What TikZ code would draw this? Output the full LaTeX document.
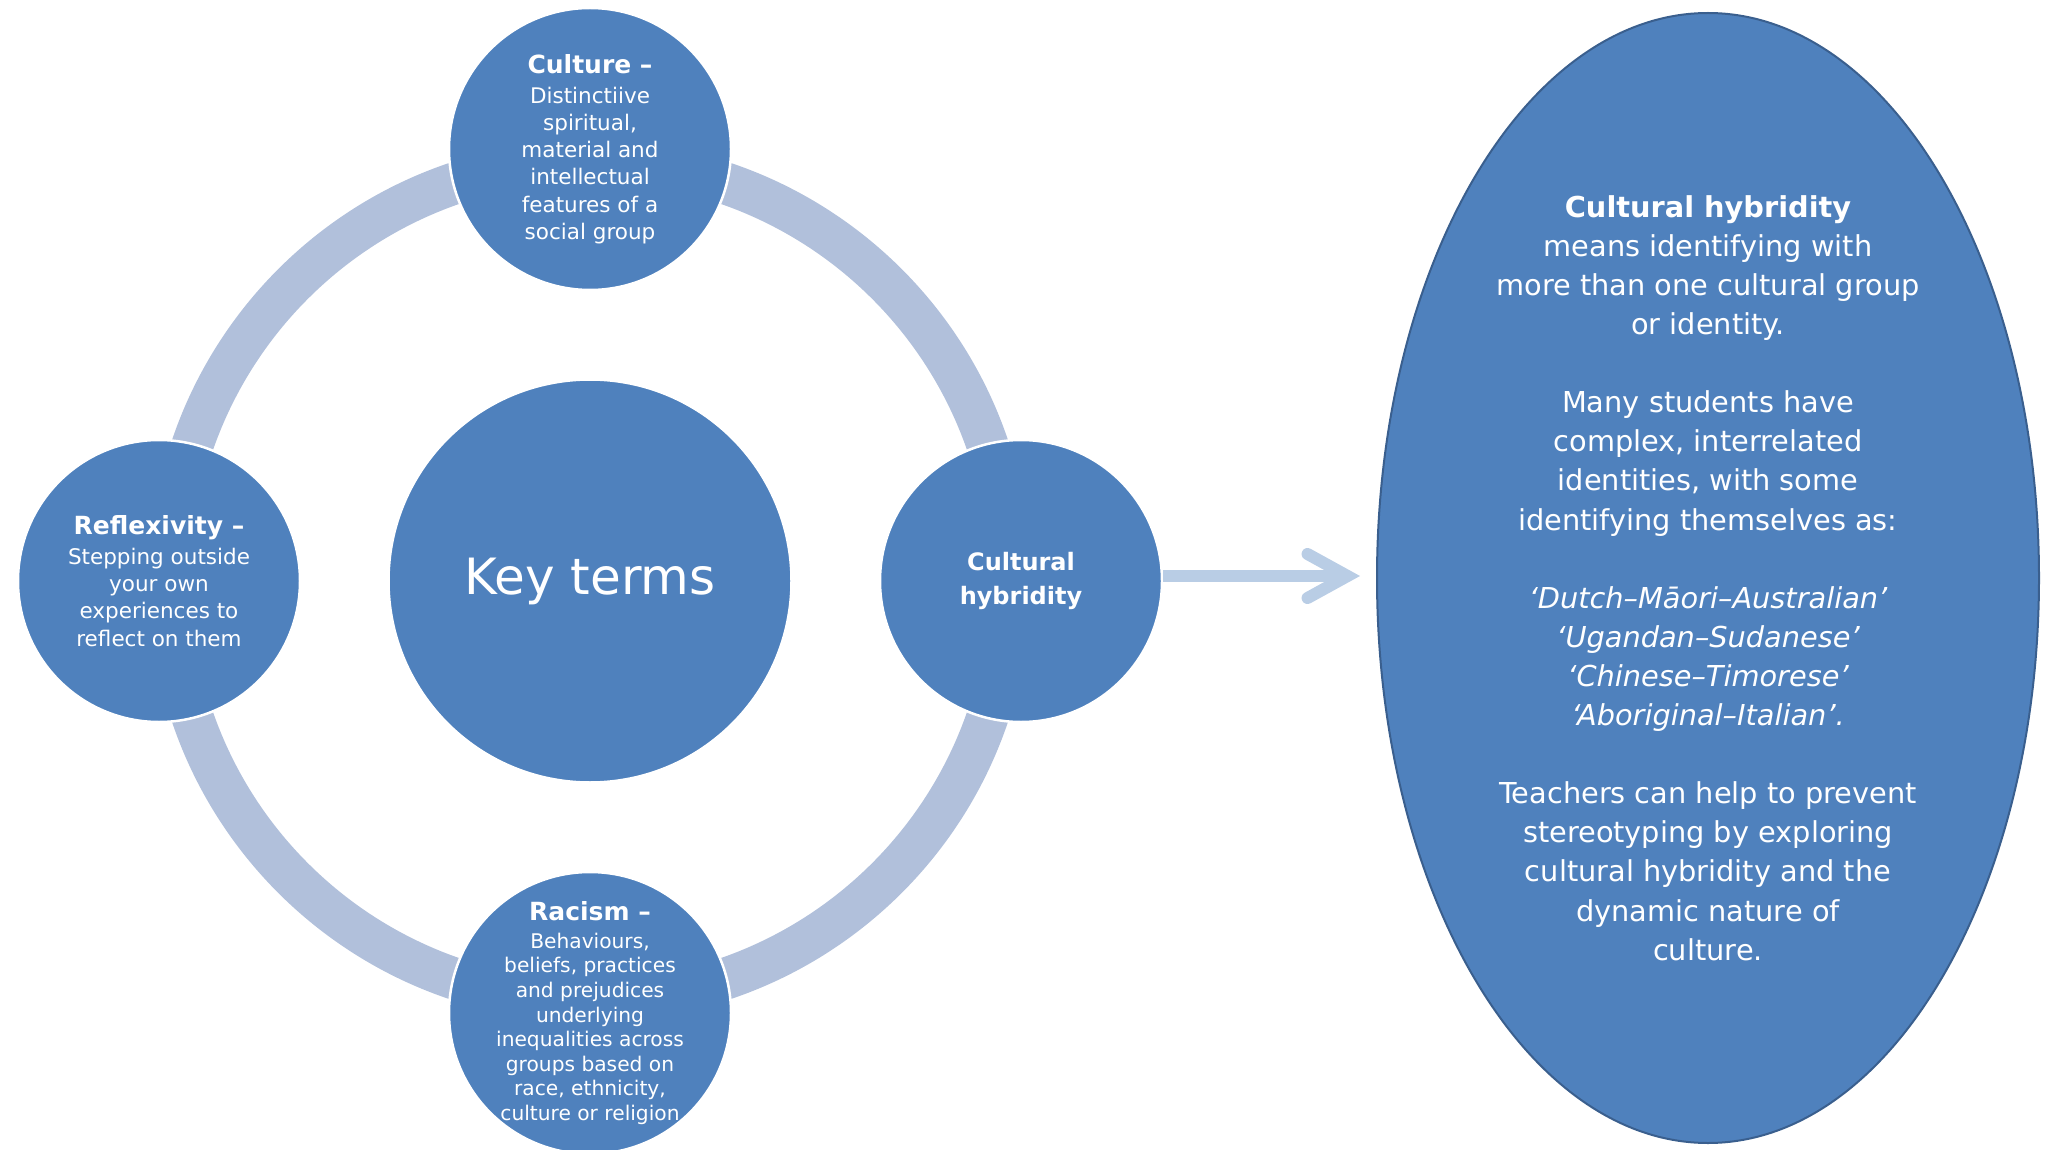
\documentclass[tikz,border=0pt]{standalone}
\usepackage{fontspec}
\setmainfont{DejaVu Sans}
\usetikzlibrary{shapes.geometric,arrows.meta}

\definecolor{termblue}{HTML}{4F81BD}
\definecolor{ringblue}{HTML}{B1C0DB}
\definecolor{arrowblue}{HTML}{B9CDE5}
\definecolor{edgeblue}{HTML}{3A5F8E}

\newcommand{\bodyfont}{\fontsize{21.5}{27.3}\selectfont}
\newcommand{\headfont}{\fontsize{25}{30}\selectfont\bfseries}

\begin{document}
\begin{tikzpicture}[x=1pt,y=-1pt,
    term/.style={circle, minimum size=282pt, inner sep=0pt, fill=termblue,
      draw=white, line width=2.5pt, text=white, align=center, font=\bodyfont},
    ring/.style={draw=ringblue, line width=42pt}]
  \useasboundingbox (0,0) rectangle (2046,1150);
  \coordinate (o) at (590,581);
  \draw[ring] (o) circle (420pt);
  \node[name=key, term, minimum size=403pt, font=\fontsize{50}{60}\selectfont] at (o) {Key terms};
  \node[name=cult, term] at (590,149) {{\headfont Culture –}\\[2.7pt]
    Distinctiive\\ spiritual,\\ material and\\ intellectual\\ features of a\\ social group};
  \node[name=refl, term] at (159,581) {{\headfont Reflexivity –}\\[2.7pt]
    Stepping outside\\ your own\\ experiences to\\ reflect on them};
  \node[name=hyb, term, font=\fontsize{24}{34}\selectfont\bfseries] at (1021,581) {Cultural\\ hybridity};
  \node[name=rac, term, inner sep=-12pt, font=\fontsize{20.2}{24.6}\selectfont] at (590,1013) {{\headfont Racism –}\\[3.4pt]
    Behaviours,\\ beliefs, practices\\ and prejudices\\ underlying\\ inequalities across\\
    groups based on\\ race, ethnicity,\\ culture or religion};
  \node[name=info, ellipse, minimum width=662pt, minimum height=1130pt, inner sep=0pt,
    fill=termblue, draw=edgeblue, line width=2pt, text=white, align=center,
    font=\fontsize{28.8}{39.1}\selectfont] at (1708,578) {{\bfseries Cultural hybridity}\\
    means identifying with\\ more than one cultural group\\ or identity.\\[39.1pt]
    Many students have\\ complex, interrelated\\ identities, with some\\ identifying themselves as:\\[39.1pt]
    {\itshape ‘Dutch–Māori–Australian’}\\ {\itshape ‘Ugandan–Sudanese’}\\
    {\itshape ‘Chinese–Timorese’}\\ {\itshape ‘Aboriginal–Italian’.}\\[39.1pt]
    Teachers can help to prevent\\ stereotyping by exploring\\ cultural hybridity and the\\
    dynamic nature of\\ culture.};
  \draw[arrowblue, line width=12pt, shorten >=16pt,
    -{Straight Barb[length=40pt,width=44pt,line cap=round,line join=miter]}]
    ([yshift=5pt]hyb.east) -- ([yshift=5pt]hyb.east -| info.west);
\end{tikzpicture}
\end{document}
